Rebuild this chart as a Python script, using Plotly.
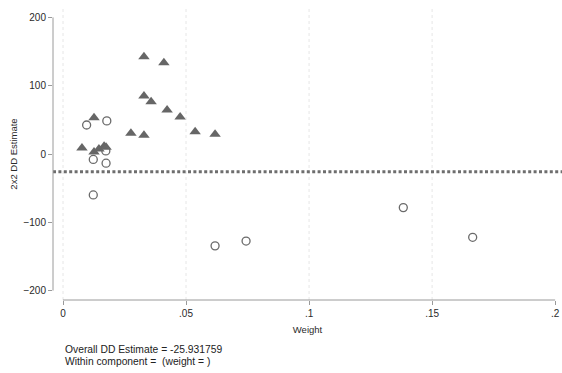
import plotly.graph_objects as go

# Timing-group comparisons (triangles)
timing_weight = [0.0077, 0.0126, 0.0126, 0.0146, 0.0167, 0.0175, 0.0276, 0.0329,
                 0.0329, 0.0410, 0.0329, 0.0358, 0.0423, 0.0476, 0.0537, 0.0618]
timing_est = [8.8, 53.0, 3.0, 7.5, 11.5, 10.0, 30.5, 27.5,
              142.5, 133.5, 85.0, 76.5, 64.5, 54.0, 32.5, 29.0]

# Treated vs never-treated comparisons (hollow circles)
never_weight = [0.0096, 0.0178, 0.0174, 0.0123, 0.0175, 0.0123,
                0.0618, 0.0744, 0.1383, 0.1665]
never_est = [42.5, 48.5, 4.5, -8.0, -13.5, -60.0,
             -134.5, -127.5, -78.5, -122.0]

overall_dd = -25.931759
x_ticks = [0, 0.05, 0.1, 0.15, 0.2]
x_tick_text = ["0", ".05", ".1", ".15", ".2"]
x_grid = [0, 0.05, 0.1, 0.15]
y_ticks = [-200, -100, 0, 100, 200]

font_family = "Liberation Sans, Arial, sans-serif"
axis_grey = "#9a9a9a"

fig = go.Figure()

fig.add_trace(go.Scatter(
    x=timing_weight, y=timing_est, mode="markers",
    marker=dict(symbol="triangle-up", size=10, color="#666666",
                line=dict(width=0)),
    showlegend=False, cliponaxis=False,
))
fig.add_trace(go.Scatter(
    x=never_weight, y=never_est, mode="markers",
    marker=dict(symbol="circle-open", size=8, color="#6a6a6a",
                line=dict(width=1.3)),
    showlegend=False, cliponaxis=False,
))

shapes = []
# vertical dotted grid
for gx in x_grid:
    shapes.append(dict(type="line", xref="x", yref="paper", x0=gx, x1=gx,
                       y0=0, y1=1, layer="below",
                       line=dict(color="#e6e6e6", width=1, dash="dot")))
# overall DD estimate reference line
shapes.append(dict(type="line", xref="paper", yref="y", x0=0, x1=1,
                   y0=overall_dd, y1=overall_dd, layer="below",
                   line=dict(color="#6e6e6e", width=3, dash="3px,2.4px")))
# y axis line spanning the labelled range
shapes.append(dict(type="line", xref="paper", yref="y", x0=0, x1=0,
                   y0=y_ticks[0], y1=y_ticks[-1],
                   line=dict(color=axis_grey, width=1)))
# x axis line spanning the labelled range
shapes.append(dict(type="line", xref="x", yref="paper", x0=x_ticks[0],
                   x1=x_ticks[-1], y0=0, y1=0,
                   line=dict(color=axis_grey, width=1)))

fig.update_layout(
    width=562, height=373,
    margin=dict(l=53, r=0, t=8, b=73),
    paper_bgcolor="white", plot_bgcolor="white",
    font=dict(family=font_family, size=9.5, color="#2a2a2a"),
    shapes=shapes,
    xaxis=dict(
        range=[-0.00407, 0.2028], tickvals=x_ticks, ticktext=x_tick_text,
        showgrid=False, zeroline=False, showline=False,
        ticks="outside", ticklen=4, tickcolor=axis_grey, tickwidth=1,
        tickfont=dict(size=10),
        title=dict(text="Weight", font=dict(size=9.5), standoff=8),
    ),
    yaxis=dict(
        range=[-213.8, 213.8], tickvals=y_ticks,
        showgrid=False, zeroline=False, showline=False,
        ticks="outside", ticklen=4, tickcolor=axis_grey, tickwidth=1,
        tickfont=dict(size=10),
        title=dict(text="2x2 DD Estimate", font=dict(size=9.5), standoff=4),
    ),
    annotations=[
        dict(text="Overall DD Estimate = %.6f" % overall_dd,
             xref="x", yref="paper", x=0, y=-0.168, xanchor="left",
             yanchor="middle", showarrow=False,
             font=dict(size=10.3, color="#222222")),
        dict(text="Within component = \u00a0(weight = )",
             xref="x", yref="paper", x=0, y=-0.210, xanchor="left",
             yanchor="middle", showarrow=False,
             font=dict(size=10.3, color="#222222")),
    ],
)

fig.write_html("out.html")
